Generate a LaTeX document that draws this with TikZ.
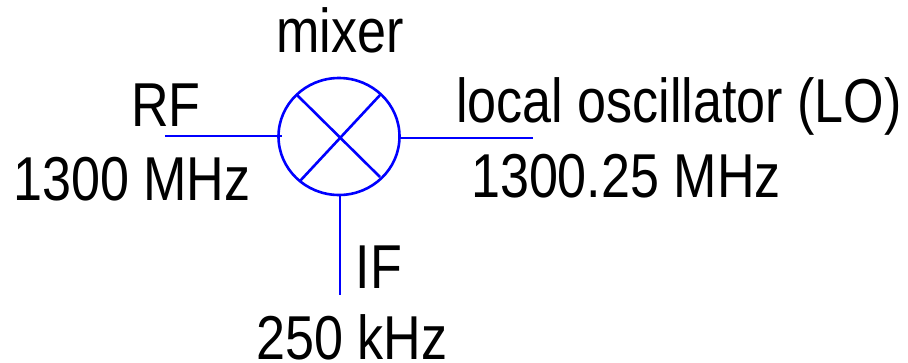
\documentclass[tikz,border=0pt]{standalone}
\usepackage{fontspec}
\setmainfont[FakeStretch=0.84]{Liberation Sans}
\usetikzlibrary{shapes.geometric}
\definecolor{wire}{RGB}{0,0,255}
\tikzset{
  wirestyle/.style={draw=wire,line width=2.6pt},
  lbl/.style={inner sep=0pt,anchor=base,font=\fontsize{62}{64}\selectfont,text=black},
}
\begin{document}
\begin{tikzpicture}[x=1pt,y=-1pt]
\useasboundingbox (0,0) rectangle (908,362);
\node[ellipse,wirestyle,minimum width=121pt,minimum height=117pt,inner sep=0pt] (mix) at (339,136.5) {};
\coordinate (rf) at (165,136);
\coordinate (rfe) at (282,136);
\coordinate (loe) at (400,138);
\coordinate (lo) at (533,138);
\coordinate (ift) at (340,195);
\coordinate (if) at (340,295);
\coordinate (d1) at (297,95);
\coordinate (d2) at (380,177);
\coordinate (d3) at (381,94);
\coordinate (d4) at (300,181);
\draw[wirestyle] (rf) -- (rfe);
\draw[wirestyle] (loe) -- (lo);
\draw[wirestyle] (ift) -- (if);
\draw[wirestyle] (d1) -- (d2);
\draw[wirestyle] (d3) -- (d4);
\node[lbl] (t1) at (340,52) {mixer};
\node[lbl] (t2) at (166,126) {RF};
\node[lbl] (t3) at (132,200) {1300 MHz};
\node[lbl] (t4) at (679,122) {local oscillator (LO)};
\node[lbl] (t5) at (626,197) {1300.25 MHz};
\node[lbl] (t6) at (379,288) {IF};
\node[lbl] (t7) at (352,359) {250 kHz};
\end{tikzpicture}
\end{document}
